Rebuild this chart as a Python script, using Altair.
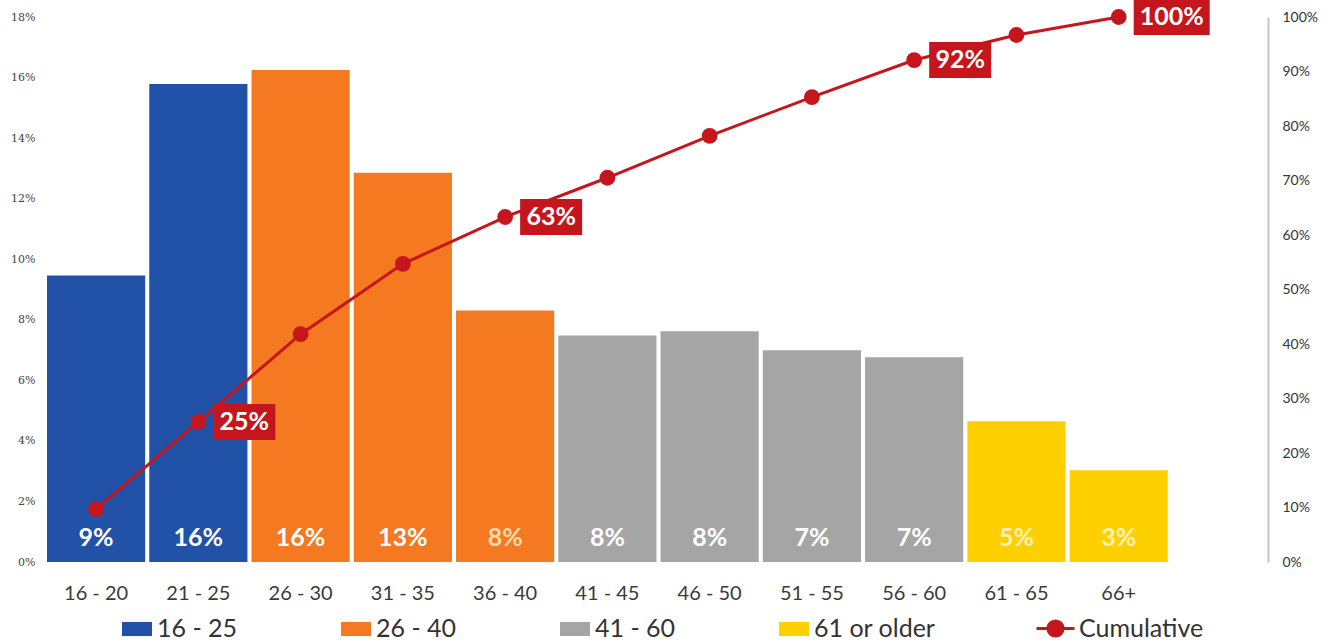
import altair as alt
import pandas as pd

# ---- data ----
ages = ["16 - 20", "21 - 25", "26 - 30", "31 - 35", "36 - 40", "41 - 45",
        "46 - 50", "51 - 55", "56 - 60", "61 - 65", "66+"]
groups = ["16 - 25", "16 - 25", "26 - 40", "26 - 40", "26 - 40", "41 - 60",
          "41 - 60", "41 - 60", "41 - 60", "61 or older", "61 or older"]
share = [9.46, 15.79, 16.25, 12.86, 8.31, 7.48, 7.62, 6.99, 6.76, 4.65, 3.03]
share_labels = ["9%", "16%", "16%", "13%", "8%", "8%", "8%", "7%", "7%", "5%", "3%"]
cumulative = [9.7, 25.7, 41.8, 54.7, 63.3, 70.5, 78.2, 85.3, 92.1, 96.7, 100.0]
cum_labels = ["", "25%", "", "", "63%", "", "", "", "92%", "", "100%"]

group_order = ["16 - 25", "26 - 40", "41 - 60", "61 or older"]
group_colors = ["#2251a8", "#f47920", "#a5a5a5", "#ffd000"]
RED = "#c4161c"

df = pd.DataFrame({
    "age": ages, "group": groups, "share": share, "share_label": share_labels,
    "cum": cumulative, "cum_label": cum_labels, "series": ["Cumulative"] * len(ages),
})

W, H = 1221, 545
FONT = "Lato"

x_scale = alt.Scale(domain=ages, paddingInner=0.04, paddingOuter=0.49, align=0)

base = alt.Chart(df)

bars = base.mark_bar().encode(
    x=alt.X("age:N", sort=ages, scale=x_scale,
            axis=alt.Axis(title=None, labelAngle=0, labelFont=FONT, labelFontSize=20,
                          labelColor="#3a3a3a", domain=False, ticks=False, labelPadding=21)),
    y=alt.Y("share:Q", scale=alt.Scale(domain=[0, 18], nice=False),
            axis=alt.Axis(title=None, values=list(range(0, 19, 2)),
                          labelExpr="datum.value + '%'", labelFont="DejaVu Serif",
                          labelFontSize=11, labelColor="#444", grid=False, domain=False,
                          ticks=False, labelPadding=12)),
    color=alt.Color("group:N", scale=alt.Scale(domain=group_order, range=group_colors),
                    legend=alt.Legend(title=None, orient="none", legendX=75, legendY=597,
                                      direction="horizontal", columns=4, gridAlign="all",
                                      symbolType="M-1,-0.47 H1 V0.47 H-1 Z", symbolSize=900,
                                      symbolStrokeWidth=0, labelFont=FONT, labelFontSize=25,
                                      labelColor="#333", labelOffset=5, columnPadding=62,
                                      padding=0, labelLimit=300)),
)

text_color = (alt.when("datum.age == '36 - 40'").then(alt.value("#f7d9b2"))
              .when("datum.group == '61 or older'").then(alt.value("#fff1b8"))
              .otherwise(alt.value("white")))

bar_text = base.mark_text(font=FONT, fontSize=25, fontWeight="bold", baseline="middle",
                          align="center").encode(
    x=alt.X("age:N", sort=ages, scale=x_scale, bandPosition=0.5),
    y=alt.value(H - 24),
    text="share_label:N",
    color=text_color,
)

left = alt.layer(bars, bar_text)

y_right = alt.Y("cum:Q", scale=alt.Scale(domain=[0, 100], nice=False),
                axis=alt.Axis(title=None, orient="right", values=list(range(0, 101, 10)),
                              labelExpr="datum.value + '%'", labelFont=FONT, labelFontSize=14,
                              labelColor="#333", grid=False, domain=True,
                              domainColor="#c4c4c4", domainWidth=2, ticks=False,
                              labelPadding=14))

line = base.mark_line(color=RED, strokeWidth=3).encode(
    x=alt.X("age:N", sort=ages, scale=x_scale, bandPosition=0.5),
    y=y_right,
    stroke=alt.Stroke("series:N", scale=alt.Scale(domain=["Cumulative"], range=[RED]),
                      legend=alt.Legend(title=None, orient="none", legendX=988, legendY=591,
                                        symbolType="M-1,0 H1 M0.4,0 A0.4,0.4 0 1,1 -0.4,0 A0.4,0.4 0 1,1 0.4,0 Z",
                                        symbolSize=1444, symbolStrokeWidth=3,
                                        symbolFillColor=RED, symbolStrokeColor=RED,
                                        labelFont=FONT, labelFontSize=25, labelColor="#333",
                                        labelOffset=3, padding=0)),
)

points = base.mark_circle(color=RED, size=250, opacity=1).encode(
    x=alt.X("age:N", sort=ages, scale=x_scale, bandPosition=0.5),
    y=alt.Y("cum:Q", scale=alt.Scale(domain=[0, 100], nice=False)),
)


def box_layers(filter_expr, half_w):
    r = half_w
    hh = 18.0 / r
    path = f"M-1,-{hh:.3f} H1 V{hh:.3f} H-1 Z"
    off = 15 + half_w
    box = base.transform_filter(filter_expr).mark_point(
        shape=path, filled=True, color=RED, opacity=1, size=(2 * r) ** 2,
        xOffset=off, strokeWidth=0).encode(
        x=alt.X("age:N", sort=ages, scale=x_scale, bandPosition=0.5),
        y=alt.Y("cum:Q", scale=alt.Scale(domain=[0, 100], nice=False)),
    )
    txt = base.transform_filter(filter_expr).mark_text(
        font=FONT, fontSize=25, fontWeight="bold", color="white", align="center",
        baseline="middle", xOffset=off).encode(
        x=alt.X("age:N", sort=ages, scale=x_scale, bandPosition=0.5),
        y=alt.Y("cum:Q", scale=alt.Scale(domain=[0, 100], nice=False)),
        text="cum_label:N",
    )
    return [box, txt]


labels_small = box_layers("length(datum.cum_label) > 0 && length(datum.cum_label) < 4", 31)
labels_big = box_layers("length(datum.cum_label) >= 4", 38)

right = alt.layer(line, points, *labels_small, *labels_big)

chart = alt.layer(left, right).resolve_scale(y="independent").properties(
    width=W, height=H,
    padding={"left": 47, "top": 17, "right": 67, "bottom": 80},
    autosize=alt.AutoSizeParams(type="none"),
    background="white",
).configure_view(stroke=None)

chart.save("out.html", embed_options={"renderer": "svg", "actions": False})
